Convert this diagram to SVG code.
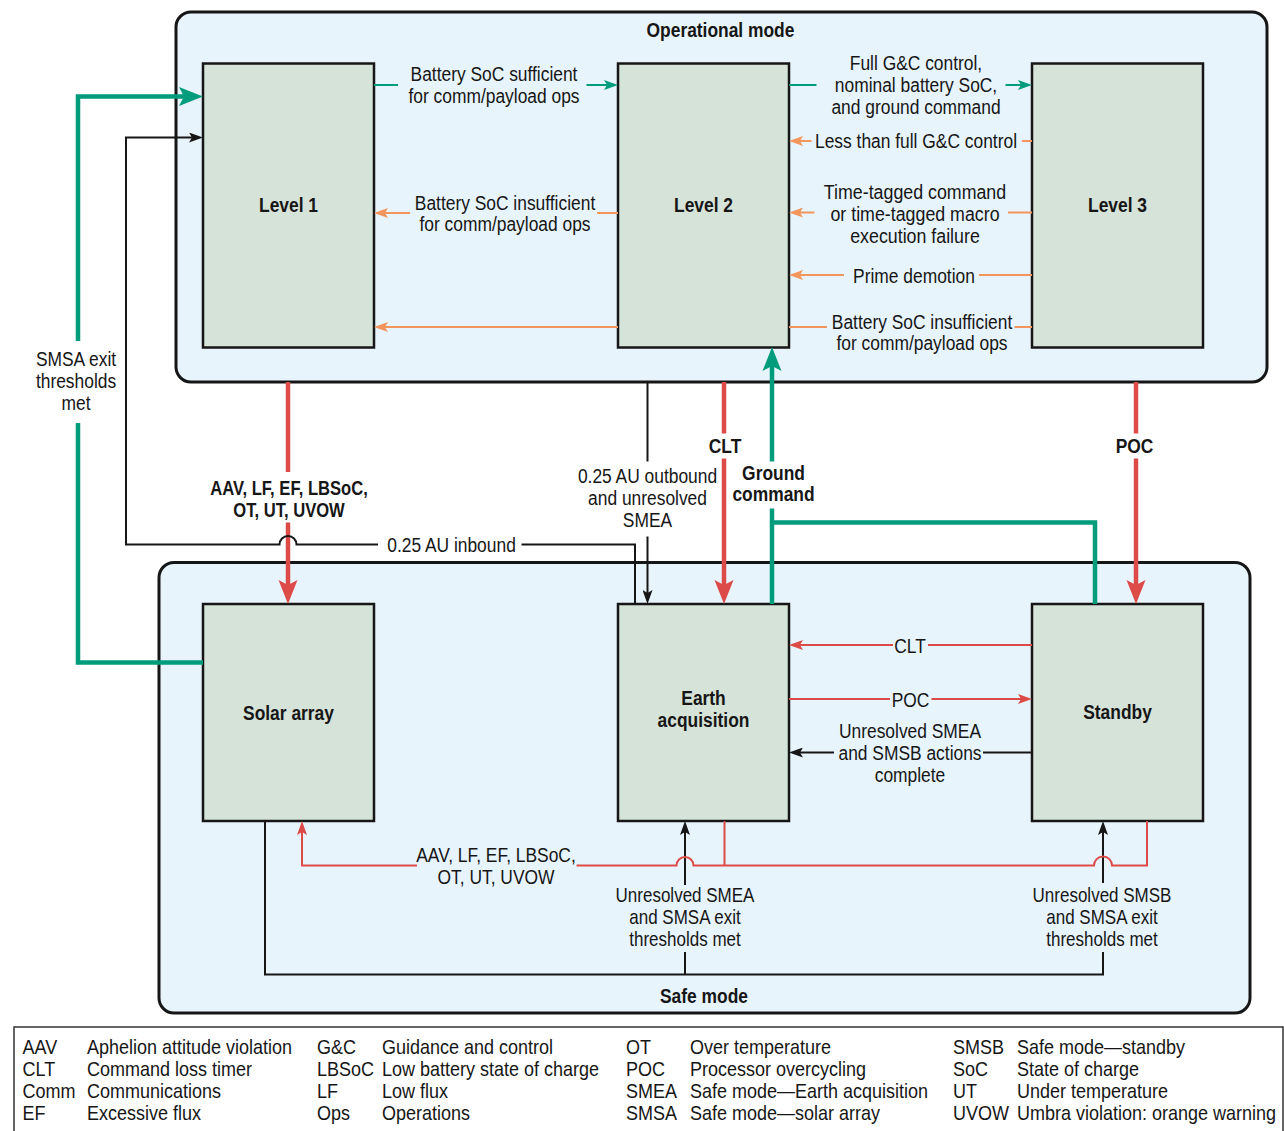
<svg xmlns="http://www.w3.org/2000/svg" width="1284" height="1131" viewBox="0 0 1284 1131">
<defs>
<style>
.t{font-family:"Liberation Sans",Arial,sans-serif;font-size:20px;fill:#161616}
.b{font-weight:bold}
.mode{fill:#e8f4fc;stroke:#161616;stroke-width:3}
.node{fill:#d6e3d9;stroke:#161616;stroke-width:2.5}
.c{fill:none;stroke-linejoin:miter}
.tk{stroke:#009c7c;stroke-width:4.5}
.rk{stroke:#dd4b48;stroke-width:4.5}
.tn{stroke:#009c7c;stroke-width:2}
.rn{stroke:#dd4b48;stroke-width:2}
.on{stroke:#f2965e;stroke-width:2}
.bn{stroke:#161616;stroke-width:2}
</style>
<marker id="aTk" markerUnits="userSpaceOnUse" markerWidth="24" markerHeight="20" viewBox="0 0 24 20" refX="12" refY="10" orient="auto"><path d="M0,0.5 L24,10 L0,19.5 L5,10 z" fill="#009c7c"/></marker>
<marker id="aRk" markerUnits="userSpaceOnUse" markerWidth="24" markerHeight="20" viewBox="0 0 24 20" refX="12" refY="10" orient="auto"><path d="M0,0.5 L24,10 L0,19.5 L5,10 z" fill="#dd4b48"/></marker>
<marker id="aTn" markerUnits="userSpaceOnUse" markerWidth="14" markerHeight="10" viewBox="0 0 14 10" refX="7" refY="5" orient="auto"><path d="M0,0 L14,5 L0,10 L3,5 z" fill="#009c7c"/></marker>
<marker id="aRn" markerUnits="userSpaceOnUse" markerWidth="14" markerHeight="10" viewBox="0 0 14 10" refX="7" refY="5" orient="auto"><path d="M0,0 L14,5 L0,10 L3,5 z" fill="#dd4b48"/></marker>
<marker id="aOn" markerUnits="userSpaceOnUse" markerWidth="14" markerHeight="10" viewBox="0 0 14 10" refX="7" refY="5" orient="auto"><path d="M0,0 L14,5 L0,10 L3,5 z" fill="#f2965e"/></marker>
<marker id="aBn" markerUnits="userSpaceOnUse" markerWidth="14" markerHeight="10" viewBox="0 0 14 10" refX="7" refY="5" orient="auto"><path d="M0,0 L14,5 L0,10 L3,5 z" fill="#161616"/></marker>
</defs>
<rect width="1284" height="1131" fill="#ffffff"/>

<g id="operational-mode">
<rect class="mode" x="176" y="12" width="1091" height="370" rx="15"/>
<text class="t b" text-anchor="middle" transform="translate(720.5 36.5) scale(.87 1)">Operational mode</text>
</g>

<g id="safe-mode">
<rect class="mode" x="159" y="562.5" width="1091" height="450.5" rx="15"/>
<text class="t b" text-anchor="middle" transform="translate(704 1003) scale(.87 1)">Safe mode</text>
</g>

<g id="legend">
<rect x="14" y="1027" width="1269" height="115" fill="#ffffff" stroke="#333" stroke-width="1.5"/>
<g class="t">
<text transform="translate(22.5 1054) scale(.9 1)">AAV</text>
<text transform="translate(22.5 1076) scale(.9 1)">CLT</text>
<text transform="translate(22.5 1098) scale(.9 1)">Comm</text>
<text transform="translate(22.5 1120) scale(.9 1)">EF</text>
<text transform="translate(87 1054) scale(.9 1)">Aphelion attitude violation</text>
<text transform="translate(87 1076) scale(.9 1)">Command loss timer</text>
<text transform="translate(87 1098) scale(.9 1)">Communications</text>
<text transform="translate(87 1120) scale(.9 1)">Excessive flux</text>
<text transform="translate(317 1054) scale(.9 1)">G&amp;C</text>
<text transform="translate(317 1076) scale(.9 1)">LBSoC</text>
<text transform="translate(317 1098) scale(.9 1)">LF</text>
<text transform="translate(317 1120) scale(.9 1)">Ops</text>
<text transform="translate(382 1054) scale(.9 1)">Guidance and control</text>
<text transform="translate(382 1076) scale(.9 1)">Low battery state of charge</text>
<text transform="translate(382 1098) scale(.9 1)">Low flux</text>
<text transform="translate(382 1120) scale(.9 1)">Operations</text>
<text transform="translate(626 1054) scale(.9 1)">OT</text>
<text transform="translate(626 1076) scale(.9 1)">POC</text>
<text transform="translate(626 1098) scale(.9 1)">SMEA</text>
<text transform="translate(626 1120) scale(.9 1)">SMSA</text>
<text transform="translate(690 1054) scale(.9 1)">Over temperature</text>
<text transform="translate(690 1076) scale(.9 1)">Processor overcycling</text>
<text transform="translate(690 1098) scale(.9 1)">Safe mode—Earth acquisition</text>
<text transform="translate(690 1120) scale(.9 1)">Safe mode—solar array</text>
<text transform="translate(953 1054) scale(.9 1)">SMSB</text>
<text transform="translate(953 1076) scale(.9 1)">SoC</text>
<text transform="translate(953 1098) scale(.9 1)">UT</text>
<text transform="translate(953 1120) scale(.9 1)">UVOW</text>
<text transform="translate(1017 1054) scale(.9 1)">Safe mode—standby</text>
<text transform="translate(1017 1076) scale(.9 1)">State of charge</text>
<text transform="translate(1017 1098) scale(.9 1)">Under temperature</text>
<text transform="translate(1017 1120) scale(.9 1)">Umbra violation: orange warning</text>
</g>
</g>

<g id="node-level1"><rect class="node" x="203" y="63.5" width="171" height="284"/><text class="t b" text-anchor="middle" transform="translate(288.5 212) scale(.87 1)">Level 1</text></g>
<g id="node-level2"><rect class="node" x="618" y="63.5" width="171" height="284"/><text class="t b" text-anchor="middle" transform="translate(703.5 212) scale(.87 1)">Level 2</text></g>
<g id="node-level3"><rect class="node" x="1032" y="63.5" width="171" height="284"/><text class="t b" text-anchor="middle" transform="translate(1117.5 212) scale(.87 1)">Level 3</text></g>
<g id="node-solar-array"><rect class="node" x="203" y="604" width="171" height="217"/><text class="t b" text-anchor="middle" transform="translate(288.5 719.5) scale(.87 1)">Solar array</text></g>
<g id="node-earth-acquisition"><rect class="node" x="618" y="604" width="171" height="217"/><text class="t b" text-anchor="middle" transform="translate(703.5 705) scale(.87 1)"><tspan x="0">Earth</tspan><tspan x="0" dy="22">acquisition</tspan></text></g>
<g id="node-standby"><rect class="node" x="1032" y="604" width="171" height="217"/><text class="t b" text-anchor="middle" transform="translate(1117.5 718.5) scale(.87 1)">Standby</text></g>

<g id="connectors">
<!-- teal thick -->
<path class="c tk" d="M203,662.5 H78 V423"/>
<path class="c tk" d="M78,341 V96.5 H191" marker-end="url(#aTk)"/>
<path class="c tk" d="M772,604 V508.5"/>
<path class="c tk" d="M772,461.5 V359" marker-end="url(#aTk)"/>
<path class="c tk" d="M1095,604 V522.5 H772"/>
<!-- red thick -->
<path class="c rk" d="M288,382 V472"/>
<path class="c rk" d="M288,522.5 V592" marker-end="url(#aRk)"/>
<path class="c rk" d="M724,382 V433.5"/>
<path class="c rk" d="M724,458.5 V592" marker-end="url(#aRk)"/>
<path class="c rk" d="M1136,382 V433.5"/>
<path class="c rk" d="M1136,458.5 V592" marker-end="url(#aRk)"/>
<!-- black thin -->
<path class="c bn" d="M635,604 V544.5 H521.5"/>
<path class="c bn" d="M378,544.5 H296.5 A8.5,8.5 0 0 0 279.5,544.5 H126 V137.5 H196" marker-end="url(#aBn)"/>
<path class="c bn" d="M647.5,382 V461.5"/>
<path class="c bn" d="M647.5,536.5 V597" marker-end="url(#aBn)"/>
<path class="c bn" d="M1032,752.5 H983"/>
<path class="c bn" d="M834,752.5 H796" marker-end="url(#aBn)"/>
<path class="c bn" d="M265,821 V974.5 H1103 V952"/>
<path class="c bn" d="M685,974.5 V952"/>
<path class="c bn" d="M685,885 V828" marker-end="url(#aBn)"/>
<path class="c bn" d="M1103,883 V828" marker-end="url(#aBn)"/>
<!-- red thin -->
<path class="c rn" d="M724.5,821 V865.5"/>
<path class="c rn" d="M1147,821 V865.5 H1112 A9,9 0 0 0 1094,865.5 H693.5 A8.5,8.5 0 0 0 676.5,865.5 H576.5"/>
<path class="c rn" d="M417,865.5 H302 V828" marker-end="url(#aRn)"/>
<path class="c rn" d="M1032,645 H928"/>
<path class="c rn" d="M893,645 H796" marker-end="url(#aRn)"/>
<path class="c rn" d="M789,699 H890"/>
<path class="c rn" d="M931.5,699 H1025" marker-end="url(#aRn)"/>
<!-- teal thin -->
<path class="c tn" d="M374,85 H398"/>
<path class="c tn" d="M586.5,85 H611" marker-end="url(#aTn)"/>
<path class="c tn" d="M789,85 H816.5"/>
<path class="c tn" d="M1005.5,85 H1025" marker-end="url(#aTn)"/>
<!-- orange thin -->
<path class="c on" d="M1032,141 H1022"/>
<path class="c on" d="M811.5,141 H796" marker-end="url(#aOn)"/>
<path class="c on" d="M618,213 H597"/>
<path class="c on" d="M410,213 H381" marker-end="url(#aOn)"/>
<path class="c on" d="M1032,212.5 H1008"/>
<path class="c on" d="M814.5,212.5 H796" marker-end="url(#aOn)"/>
<path class="c on" d="M1032,275 H979"/>
<path class="c on" d="M844,275 H796" marker-end="url(#aOn)"/>
<path class="c on" d="M1032,327 H1014.5"/>
<path class="c on" d="M827,327 H789"/>
<path class="c on" d="M618,327 H381" marker-end="url(#aOn)"/>

<g class="t" text-anchor="middle">
<text transform="translate(494 81) scale(.87 1)"><tspan x="0">Battery SoC sufficient</tspan><tspan x="0" dy="22">for comm/payload ops</tspan></text>
<text transform="translate(505 209.5) scale(.87 1)"><tspan x="0">Battery SoC insufficient</tspan><tspan x="0" dy="22">for comm/payload ops</tspan></text>
<text transform="translate(916 70) scale(.87 1)"><tspan x="0">Full G&amp;C control,</tspan><tspan x="0" dy="22">nominal battery SoC,</tspan><tspan x="0" dy="22">and ground command</tspan></text>
<text transform="translate(916 147.5) scale(.87 1)">Less than full G&amp;C control</text>
<text transform="translate(915 199) scale(.89 1)"><tspan x="0">Time-tagged command</tspan><tspan x="0" dy="22">or time-tagged macro</tspan><tspan x="0" dy="22">execution failure</tspan></text>
<text transform="translate(914 282.5) scale(.87 1)">Prime demotion</text>
<text transform="translate(922 328.5) scale(.87 1)"><tspan x="0">Battery SoC insufficient</tspan><tspan x="0" dy="22">for comm/payload ops</tspan></text>
<text transform="translate(76 365.5) scale(.87 1)"><tspan x="0">SMSA exit</tspan><tspan x="0" dy="22.5">thresholds</tspan><tspan x="0" dy="22">met</tspan></text>
<text class="b" transform="translate(289 495) scale(.83 1)"><tspan x="0">AAV, LF, EF, LBSoC,</tspan><tspan x="0" dy="22">OT, UT, UVOW</tspan></text>
<text transform="translate(451.5 552) scale(.87 1)">0.25 AU inbound</text>
<text transform="translate(647.5 482.5) scale(.87 1)"><tspan x="0">0.25 AU outbound</tspan><tspan x="0" dy="22.5">and unresolved</tspan><tspan x="0" dy="22.5">SMEA</tspan></text>
<text class="b" transform="translate(725 453) scale(.87 1)">CLT</text>
<text class="b" transform="translate(773.5 479.5) scale(.87 1)"><tspan x="0">Ground</tspan><tspan x="0" dy="22">command</tspan></text>
<text class="b" transform="translate(1134.5 453) scale(.87 1)">POC</text>
<text transform="translate(910 652.5) scale(.87 1)">CLT</text>
<text transform="translate(910.5 706.5) scale(.87 1)">POC</text>
<text transform="translate(910 737.5) scale(.87 1)"><tspan x="0">Unresolved SMEA</tspan><tspan x="0" dy="22.5">and SMSB actions</tspan><tspan x="0" dy="22.5">complete</tspan></text>
<text transform="translate(496 862) scale(.87 1)"><tspan x="0">AAV, LF, EF, LBSoC,</tspan><tspan x="0" dy="22.5">OT, UT, UVOW</tspan></text>
<text transform="translate(685 902) scale(.85 1)"><tspan x="0">Unresolved SMEA</tspan><tspan x="0" dy="22">and SMSA exit</tspan><tspan x="0" dy="22.5">thresholds met</tspan></text>
<text transform="translate(1102 902) scale(.85 1)"><tspan x="0">Unresolved SMSB</tspan><tspan x="0" dy="22">and SMSA exit</tspan><tspan x="0" dy="22.5">thresholds met</tspan></text>
</g>
</g>
</svg>
